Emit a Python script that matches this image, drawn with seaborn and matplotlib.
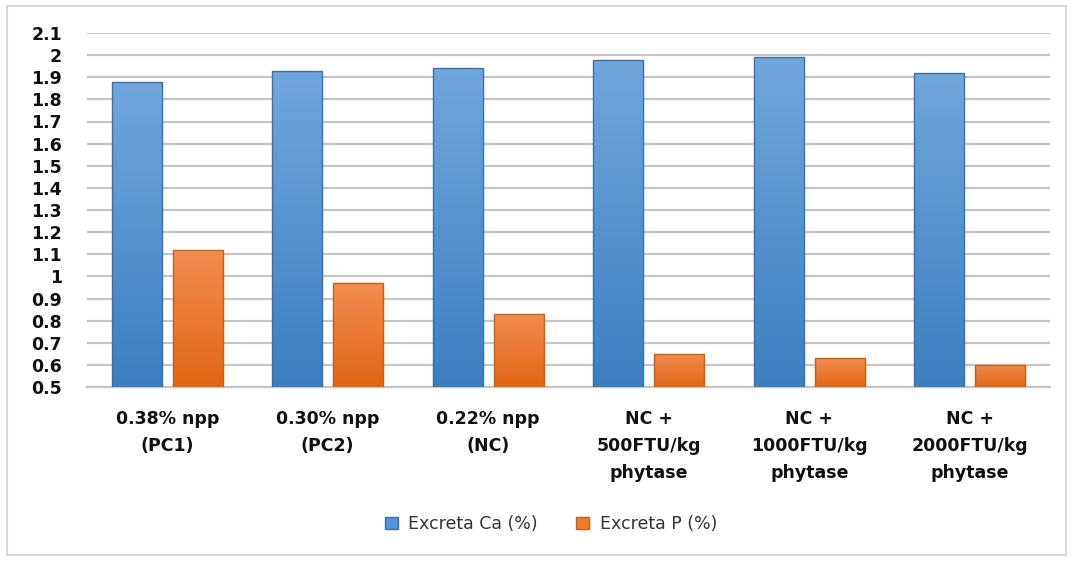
import numpy as np
import pandas as pd
import matplotlib
matplotlib.use("Agg")
import matplotlib.pyplot as plt
import seaborn as sns
from matplotlib.colors import LinearSegmentedColormap
from matplotlib.patches import Rectangle, Patch

categories = ["0.38% npp\n(PC1)", "0.30% npp\n(PC2)", "0.22% npp\n(NC)",
              "NC +\n500FTU/kg\nphytase", "NC +\n1000FTU/kg\nphytase",
              "NC +\n2000FTU/kg\nphytase"]
series_names = ["Excreta Ca (%)", "Excreta P (%)"]
ca_values = [1.88, 1.93, 1.94, 1.98, 1.99, 1.92]
p_values = [1.12, 0.97, 0.83, 0.65, 0.63, 0.60]
y_ticks = [0.5, 0.6, 0.7, 0.8, 0.9, 1, 1.1, 1.2, 1.3, 1.4, 1.5, 1.6, 1.7,
           1.8, 1.9, 2, 2.1]
y_tick_labels = ["0.5", "0.6", "0.7", "0.8", "0.9", "1", "1.1", "1.2", "1.3",
                 "1.4", "1.5", "1.6", "1.7", "1.8", "1.9", "2", "2.1"]

df = pd.DataFrame({
    "cat": categories * 2,
    "series": [series_names[0]] * len(categories) + [series_names[1]] * len(categories),
    "value": ca_values + p_values,
})

sns.set_theme(style="white")
plt.rcParams["font.family"] = ["DejaVu Sans"]

colors = {"Excreta Ca (%)": "#5195d3", "Excreta P (%)": "#ee7b2c"}
grad = {"Excreta Ca (%)": ("#70a7dd", "#3c7fc0"),
        "Excreta P (%)": ("#f28d51", "#e06514")}
edges = {"Excreta Ca (%)": "#3a6fa8", "Excreta P (%)": "#c9600f"}

fig = plt.figure(figsize=(10.73, 5.61), dpi=100)
ax = fig.add_axes([87 / 1073, 1 - 387 / 561, (1050 - 87) / 1073, (387 - 33) / 561])

sns.barplot(data=df, x="cat", y="value", hue="series", palette=colors,
            width=0.76, gap=0.18, legend=False, ax=ax, zorder=3)

n = len(categories)
ax.set_xlim(-0.5, n - 0.5)
ax.set_ylim(0.5, 2.1)
ybot = ax.get_ylim()[0]

# gradient fill and edges
for i, patch in enumerate(ax.patches):
    s = series_names[0] if i < n else series_names[1]
    x0, y0 = patch.get_x(), patch.get_y()
    w, h = patch.get_width(), patch.get_height()
    lo = max(y0, ybot)
    cmap = LinearSegmentedColormap.from_list("g", [grad[s][1], grad[s][0]])
    im = ax.imshow(np.linspace(0, 1, 256).reshape(-1, 1), extent=[x0, x0 + w, lo, y0 + h],
                   origin="lower", aspect="auto", cmap=cmap, zorder=3.5)
    im.set_clip_path(patch)
    patch.set_edgecolor(edges[s])
    patch.set_linewidth(1.0)
    patch.set_zorder(4)
    patch.set_facecolor("none")

ax.set_xlim(-0.5, n - 0.5)
ax.set_ylim(0.5, 2.1)
ax.set_yticks(y_ticks)
ax.set_yticklabels(y_tick_labels)
ax.set_xlabel("")
ax.set_ylabel("")
ax.yaxis.grid(True, color="#c6c6c6", linewidth=1.6, zorder=0)
ax.set_axisbelow(True)
for side in ["left", "right", "top"]:
    ax.spines[side].set_visible(False)
ax.spines["bottom"].set_color("#c6c6c6")
ax.spines["bottom"].set_linewidth(1.6)
ax.tick_params(axis="y", length=0, pad=18, labelsize=12.5, labelcolor="#111111")
ax.tick_params(axis="x", length=0, pad=16.5, labelsize=12.5, labelcolor="#111111")
for lab in ax.get_yticklabels():
    lab.set_fontweight("bold")
for lab in ax.get_xticklabels():
    lab.set_fontweight("bold")
    lab.set_linespacing(1.66)

handles = [Patch(facecolor=colors[s], edgecolor=edges[s], label=s) for s in series_names]
fig.legend(handles=handles, loc="center", bbox_to_anchor=(551 / 1073, 1 - 524 / 561),
           ncol=2, frameon=False, fontsize=12.5, handlelength=0.75, handleheight=0.75,
           handletextpad=0.6, columnspacing=2.2, labelcolor="#333333")

fig.patches.append(Rectangle((7 / 1073, 6 / 561), 1 - 14 / 1073, 1 - 12 / 561,
                             transform=fig.transFigure, fill=False,
                             edgecolor="#d9d9d9", linewidth=1.5))

fig.savefig("out.png", dpi=100)
